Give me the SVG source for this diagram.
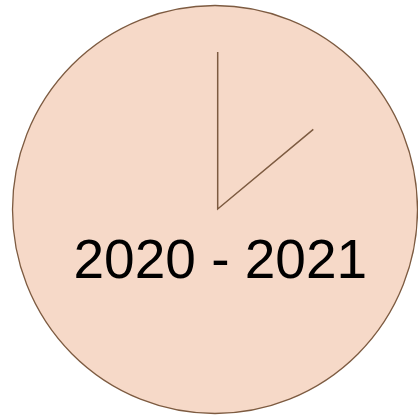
<svg xmlns="http://www.w3.org/2000/svg" width="418" height="417" viewBox="0 0 418 417">
<style>
.face{fill:#f6d9c8;stroke:#7d5b41;stroke-width:1.3}
.hand{fill:none;stroke:#7d5b41;stroke-width:1.5}
.lbl{font-family:"Liberation Sans",Arial,sans-serif;font-size:55px;fill:#000}
</style>
<rect width="418" height="417" fill="#ffffff"/>
<g id="clock">
<ellipse class="face" cx="215" cy="209.5" rx="202.5" ry="204"/>
<polyline class="hand" points="217.7,52 217.7,209 313.3,129.3"/>
<text class="lbl" x="220.3" y="277.7" text-anchor="middle">2020 - 2021</text>
</g>
</svg>
